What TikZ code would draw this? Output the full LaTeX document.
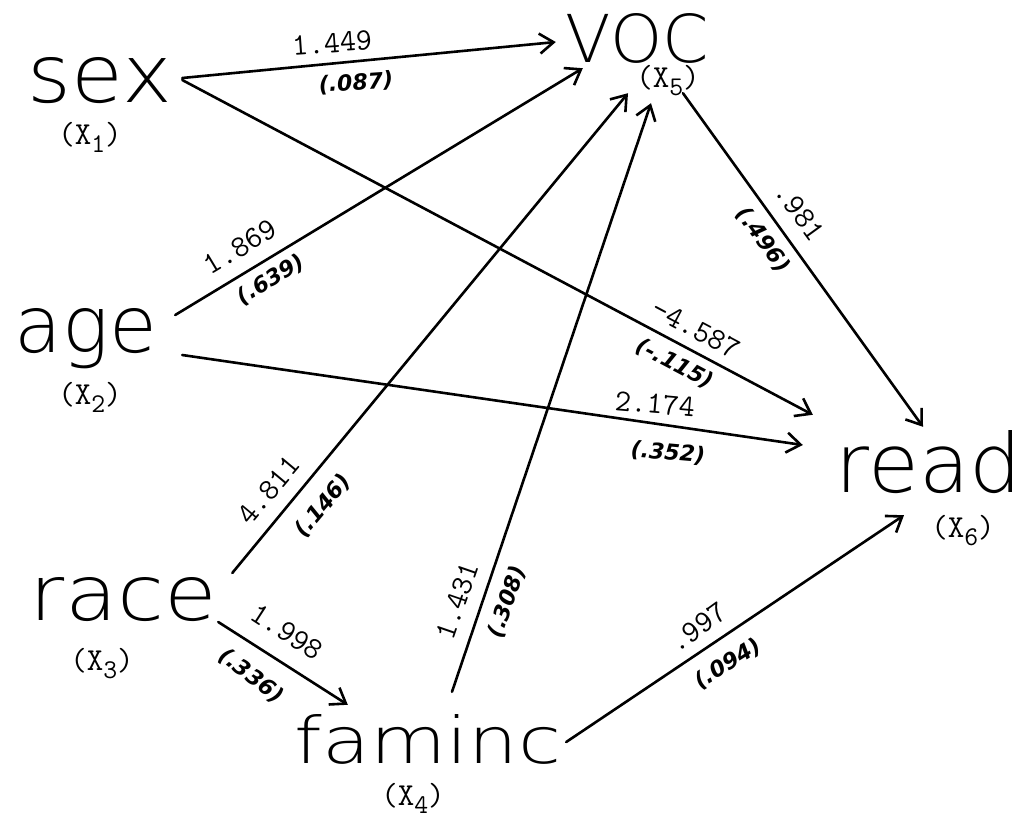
\documentclass[tikz,border=0pt]{standalone}
\usepackage{fontspec}
\usepackage{graphicx}
\usetikzlibrary{arrows.meta}
\newfontfamily\thinfont{DejaVuSans-ExtraLight.ttf}
\newfontfamily\handfont{DejaVuSans-BoldOblique.ttf}
\newcommand\xsub[1]{(X\raisebox{-8pt}{\fontsize{27}{27}\selectfont #1})}
\tikzset{
  word/.style={inner sep=0pt, text depth=0pt, font=\thinfont},
  xlab/.style={inner sep=0pt, font=\ttfamily\fontsize{32}{32}\selectfont},
  coef/.style={inner sep=0pt, font=\ttfamily\fontsize{31}{31}\selectfont},
  stdc/.style={inner sep=0pt, font=\handfont\fontsize{22}{22}\selectfont},
  link/.style={line width=2.6pt, line cap=round,
    -{Straight Barb[length=14pt,width=20pt,line width=2.6pt]}}
}
\begin{document}
\begin{tikzpicture}[x=1pt,y=-1pt]
\useasboundingbox (0,0) rectangle (1013,820);
% variable words
\node[word] (sex) at (100,79.5) {\resizebox{144pt}{45pt}{sex}};
\node[word] (voc) at (637.5,37.5) {\resizebox{143pt}{49pt}{VOC}};
\node[word] (age) at (86,330) {\resizebox{142pt}{44pt}{age}};
\node[word] (race) at (123.5,598.5) {\resizebox{187pt}{43pt}{race}};
\node[word] (faminc) at (428,738.5) {\resizebox{266pt}{49pt}{faminc}};
\node[word] (read) at (929,461) {\resizebox{186pt}{62pt}{read}};
% variable indices
\node[xlab] (x1) at (90,137) {\xsub{1}};
\node[xlab] (x2) at (90,397) {\xsub{2}};
\node[xlab] (x3) at (102,664) {\xsub{3}};
\node[xlab] (x4) at (413,798) {\xsub{4}};
\node[xlab] (x5) at (668,81) {\xsub{5}};
\node[xlab] (x6) at (963,531) {\xsub{6}};
% connectors
\draw[link] ([shift={(10,-1.5)}]sex.east) -- ([shift={(-10,4.5)}]voc.west);
\draw[link] ([shift={(10,0.5)}]sex.east) -- ([shift={(-23,-15)}]read.north west);
\draw[link] ([shift={(18,-15)}]age.east) -- ([shift={(17,6)}]voc.south west);
\draw[link] ([shift={(25,25)}]age.east) -- ([shift={(-33,-16)}]read.west);
\draw[link] ([shift={(15,-25.5)}]race.east) -- ([shift={(-9.5,31)}]voc.south);
\draw[link] ([shift={(1,23.5)}]race.east) -- ([shift={(53,-9)}]faminc.north west);
\draw[link] ([shift={(24,-22)}]faminc.north) -- ([shift={(13.5,41)}]voc.south);
\draw[link] ([shift={(5,3.5)}]faminc.east) -- ([shift={(-25,23)}]read.south);
\draw[link] ([shift={(45.5,31)}]voc.south) -- ([shift={(-6,-3)}]read.north);
% coefficients
\node[coef, rotate=4] (c15) at (332,43) {1.449};
\node[stdc, rotate=4] (s15) at (356,83) {(.087)};
\node[coef, rotate=31] (c25) at (240,247) {1.869};
\node[stdc, rotate=31] (s25) at (271,280) {(.639)};
\node[coef, rotate=-28] (c16) at (696,329) {-4.587};
\node[stdc, rotate=-28] (s16) at (675,364) {(-.115)};
\node[coef, rotate=-5] (c26) at (655,404) {2.174};
\node[stdc, rotate=-5] (s26) at (668,453) {(.352)};
\node[coef, rotate=50] (c35) at (269,490) {4.811};
\node[stdc, rotate=50] (s35) at (323,506) {(.146)};
\node[coef, rotate=-33] (c34) at (287,632) {1.998};
\node[stdc, rotate=-38] (s34) at (251,676) {(.336)};
\node[coef, rotate=71] (c45) at (457,601) {1.431};
\node[stdc, rotate=71] (s45) at (507,602) {(.308)};
\node[coef, rotate=36] (c46) at (698,627) {.997};
\node[stdc, rotate=32] (s46) at (728,664) {(.094)};
\node[coef, rotate=-54] (c56) at (800,212) {.981};
\node[stdc, rotate=-54] (s56) at (763,240) {(.496)};
\end{tikzpicture}
\end{document}
